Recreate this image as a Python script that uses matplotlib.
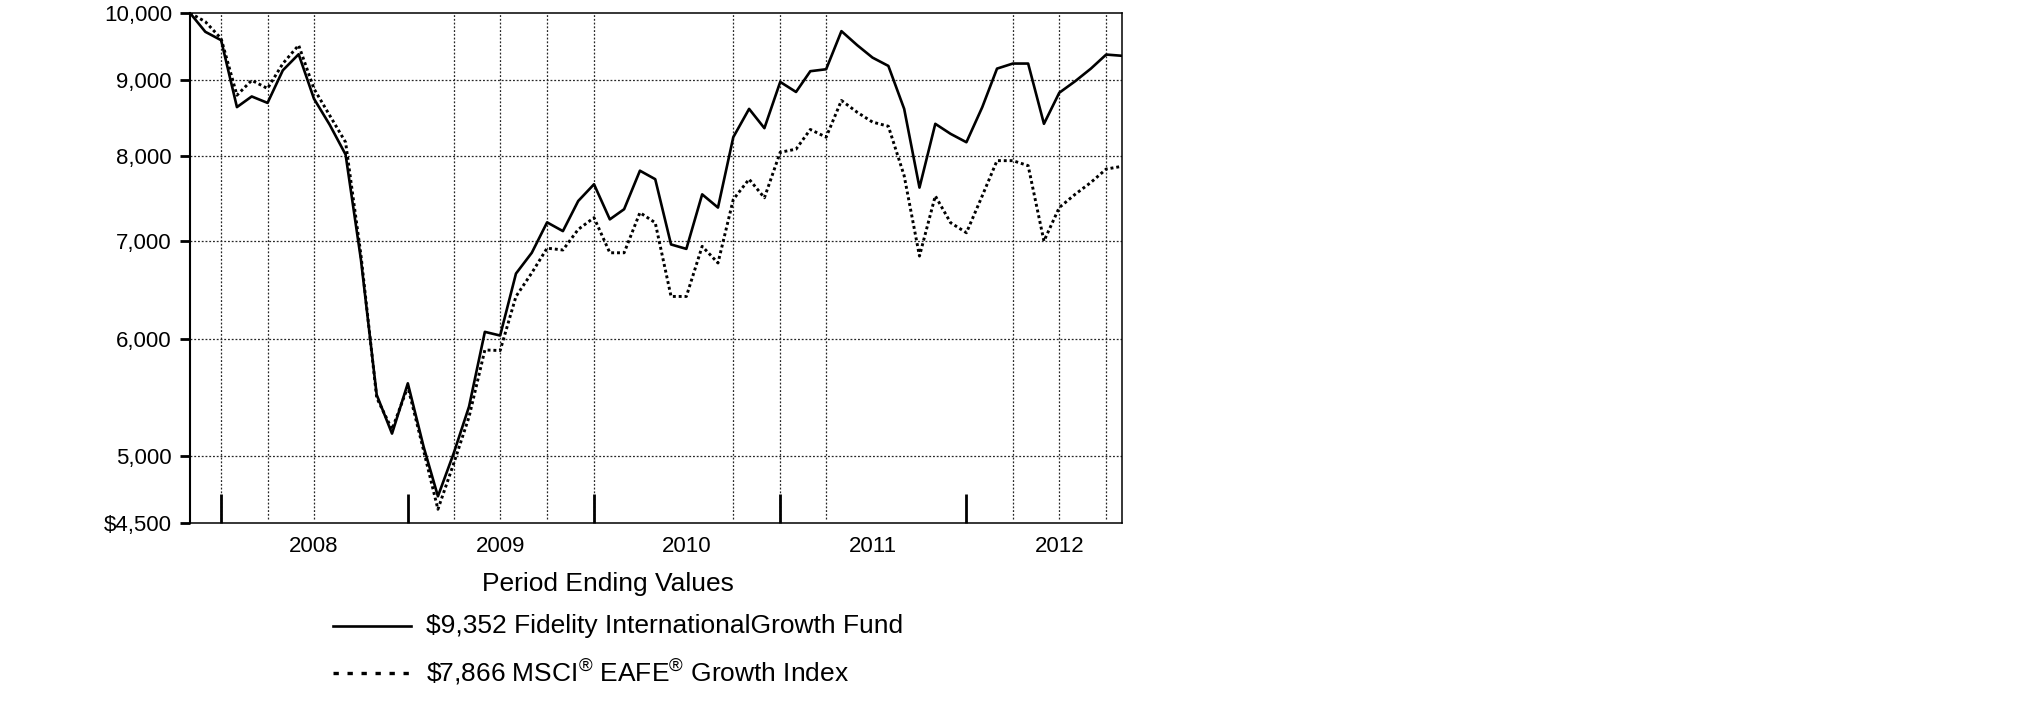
import numpy as np
import pandas as pd
import matplotlib
matplotlib.use('Agg')
import matplotlib.pyplot as plt
from matplotlib.lines import Line2D
from matplotlib.ticker import NullLocator

plt.rcParams['font.family'] = ['Liberation Sans', 'DejaVu Sans']
plt.rcParams['mathtext.fontset'] = 'custom'
plt.rcParams['mathtext.rm'] = 'Liberation Sans'
plt.rcParams['mathtext.default'] = 'regular'

# month ends, Oct 2007 .. Oct 2012
dates = pd.date_range('2007-10-31', '2012-10-31', freq='ME')

fund = [10000, 9710, 9583, 8630, 8775, 8687, 9142, 9375, 8744, 8393,
        8012, 6800, 5500, 5176, 5600, 5070, 4692, 5020, 5400, 6070,
        6035, 6650, 6870, 7205, 7107, 7450, 7648, 7239, 7355, 7812,
        7709, 6960, 6912, 7528, 7374, 8233, 8606, 8350, 8977, 8837,
        9129, 9157, 9720, 9508, 9325, 9205, 8606, 7608, 8407, 8276,
        8168, 8628, 9166, 9239, 9239, 8407, 8826, 8986, 9166, 9370,
        9352]
index = [10000, 9865, 9608, 8792, 9000, 8885, 9239, 9508, 8882, 8517,
         8168, 6850, 5475, 5210, 5570, 5040, 4598, 4940, 5313, 5900,
         5895, 6416, 6657, 6920, 6900, 7126, 7258, 6870, 6870, 7316,
         7201, 6416, 6416, 6940, 6761, 7468, 7709, 7488, 8041, 8080,
         8333, 8233, 8720, 8560, 8430, 8375, 7750, 6835, 7510, 7201,
         7089, 7510, 7936, 7936, 7874, 6997, 7374, 7528, 7670, 7832,
         7866]

fund_label = "$9,352 Fidelity InternationalGrowth Fund"
index_label = r"\$7,866 MSCI$^{®}$ EAFE$^{®}$ Growth Index"

y_ticks = [4500, 5000, 6000, 7000, 8000, 9000, 10000]
y_labels = ["$4,500", "5,000", "6,000", "7,000", "8,000", "9,000", "10,000"]
years = ["2008", "2009", "2010", "2011", "2012"]
year_ends = pd.to_datetime(['2007-12-31', '2008-12-31', '2009-12-31', '2010-12-31', '2011-12-31'])
mid_years = pd.to_datetime(['2008-06-30', '2009-06-30', '2010-06-30', '2011-06-30', '2012-06-30'])
# the vertical grid in the original is only drawn at some quarter ends
grid_dates = dates[[2, 5, 8, 17, 20, 23, 26, 35, 38, 41, 53, 56, 59]]

fig = plt.figure(figsize=(20.25, 7.17), dpi=100)
ax = fig.add_axes([190/2025, 194/717, 932/2025, 510/717])

ax.set_yscale('log')
ax.set_ylim(4500, 10000)
ax.set_xlim(dates[0], dates[-1])

grid_kw = dict(color='0.15', lw=0.9, linestyle=(0, (1.5, 1.5)), zorder=1)
for v in y_ticks[1:-1]:
    ax.axhline(v, **grid_kw)
for d in grid_dates:
    ax.axvline(d, ymin=0.008, **grid_kw)

ax.plot(dates, fund, color='black', lw=1.9, zorder=3)
ax.plot(dates, index, color='black', lw=2.1, linestyle=(0, (1.0, 1.0)), zorder=2)

ax.yaxis.set_minor_locator(NullLocator())
ax.set_yticks(y_ticks)
ax.set_yticklabels(y_labels, fontsize=16)
ax.tick_params(axis='y', direction='out', length=7, width=2, pad=6)

ax.set_xticks(year_ends)
ax.set_xticklabels([])
ax.set_xticks(mid_years, minor=True)
ax.set_xticklabels(years, minor=True, fontsize=16)
ax.tick_params(axis='x', which='major', direction='in', length=21, width=2)
ax.tick_params(axis='x', which='minor', length=0, pad=9)

for s in ax.spines.values():
    s.set_linewidth(1.1)
ax.spines['left'].set_linewidth(1.5)

fig.text(608/2025, 1 - 584/717, "Period Ending Values", fontsize=19,
         ha='center', va='center')

# legend drawn by hand to match the spacing of the original
fig.add_artist(Line2D([333/2025, 411/2025], [1 - 626/717] * 2, color='black',
                      lw=1.9, transform=fig.transFigure))
fig.add_artist(Line2D([333/2025, 411/2025], [1 - 673/717] * 2, color='black',
                      lw=2.4, linestyle=(0, (1.6, 2.6)), transform=fig.transFigure))
fig.text(426/2025, 1 - 626/717, fund_label, fontsize=19, va='center')
fig.text(426/2025, 1 - 673/717, index_label, fontsize=19, va='center')

fig.savefig('out.png', dpi=100)
